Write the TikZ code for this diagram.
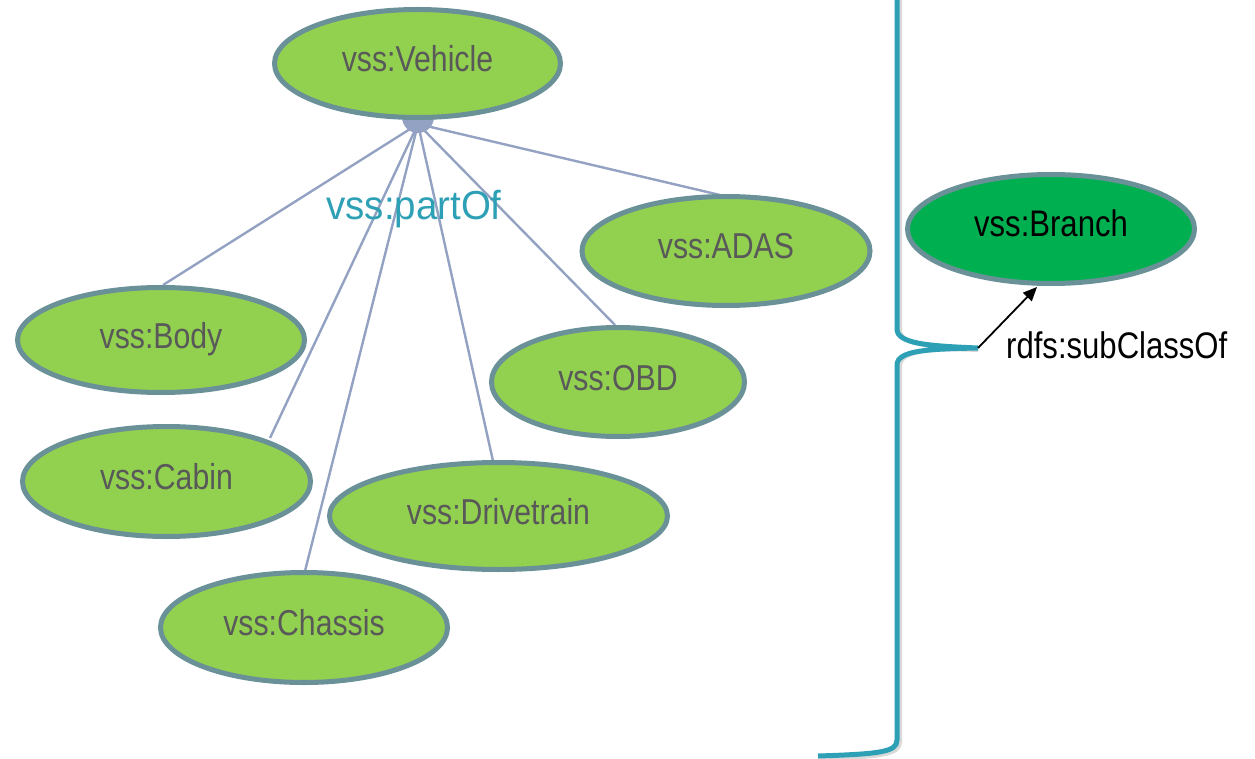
\documentclass[tikz,border=0pt]{standalone}
\usepackage{fontspec}
\setmainfont[FakeStretch=0.84]{Liberation Sans}
\newfontfamily\relfont[FakeStretch=0.95]{Liberation Sans}
\usetikzlibrary{shapes.geometric,arrows.meta,calc}
\definecolor{leaf}{HTML}{92D050}
\definecolor{branchgreen}{HTML}{00B050}
\definecolor{rim}{HTML}{6A9198}
\definecolor{spoke}{HTML}{93A2C2}
\definecolor{teal}{HTML}{2EA0B6}
\definecolor{labelgray}{HTML}{595959}
\tikzset{
  x=1pt, y=-1pt,
  cls/.style={ellipse, draw=rim, line width=5pt, fill=leaf, text=labelgray,
    inner sep=0pt, text height=26pt, text depth=10pt,
    font=\fontsize{36}{40}\selectfont},
  superclass/.style={cls, fill=branchgreen, text=black, font=\fontsize{37}{40}\selectfont},
  link/.style={draw=spoke, line width=2.4pt},
  bracket/.style={draw=teal, line width=5pt, line cap=butt},
}
\begin{document}
\begin{tikzpicture}
\useasboundingbox (0,0) rectangle (1255,759);

% half-disc hub under the root class
\fill[spoke] (402,117) arc[start angle=180, end angle=0, radius=16] -- cycle;

% spokes, drawn first so the ellipses sit on top
\coordinate (hub) at (418,124);
\coordinate (eBody) at (163,285);
\coordinate (eCabin) at (270,438);
\coordinate (eChassis) at (305,571);
\coordinate (eDrive) at (493,461);
\coordinate (eObd) at (615,325);
\coordinate (eAdas) at (720,195);
\foreach \e in {eBody,eCabin,eChassis,eDrive,eObd,eAdas}
  \draw[link] (hub) -- (\e);

% classes
\node[cls, minimum width=286, minimum height=108] (vehicle) at (417.5,63.5) {vss:Vehicle};
\node[cls, minimum width=288, minimum height=109] (adas) at (726,251) {vss:ADAS};
\node[cls, minimum width=287, minimum height=105] (body) at (161,340) {vss:Body};
\node[cls, minimum width=253, minimum height=109] (obd) at (618,382) {vss:OBD};
\node[cls, minimum width=288, minimum height=110] (cabin) at (166.5,481.5) {vss:Cabin};
\node[cls, minimum width=338, minimum height=107] (drive) at (498.5,516) {vss:Drivetrain};
\node[cls, minimum width=287, minimum height=110] (chassis) at (304,627.5) {vss:Chassis};

\node[text=teal, font=\relfont\fontsize{40.5}{44}\selectfont, anchor=base, inner sep=0pt]
  (partof) at (414,220) {vss:partOf};

% superclass on the right
\node[superclass, minimum width=287, minimum height=109] (branch) at (1051,229) {vss:Branch};

% curly bracket grouping the classes
\coordinate (bTop) at (897,-5);
\coordinate (bTip) at (978,348);
\coordinate (bEnd) at (818,756);
\draw[bracket, draw=black!15, line width=4pt]
  ($(bTop)+(3,0)$) -- (900,330) .. controls (900,345) and (930,347) .. ($(bTip)+(0,2)$)
  ($(bTip)+(0,2)$) .. controls (930,348) and (900,351) .. (900,366) -- (900,742)
  .. controls (900,755) and (880,757) .. ($(bEnd)+(0,3)$);
\draw[bracket]
  (bTop) -- (897,329) .. controls (897,344) and (930,346) .. (bTip)
  (bTip) .. controls (930,349) and (897,350) .. (897,365) -- (897,740)
  .. controls (897,752) and (880,754) .. (bEnd);

% subclass relation
\draw[-{Triangle[length=14pt,width=12pt]}, line width=1.8pt] (bTip) -- (1037,287);
\node[font=\fontsize{37}{40}\selectfont, anchor=base west, inner sep=0pt]
  (subclass) at (1006,358) {rdfs:subClassOf};
\end{tikzpicture}
\end{document}
